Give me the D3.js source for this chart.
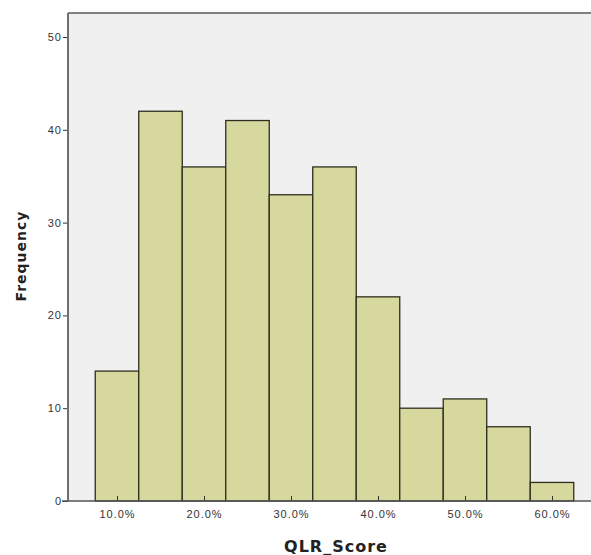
<!DOCTYPE html>
<html>
<head>
<meta charset="utf-8">
<script src="https://cdn.jsdelivr.net/npm/d3@7"></script>
<style>
  body { margin: 0; background: #fff; }
  svg { display: block; font-family: "DejaVu Sans", Arial, sans-serif; }
</style>
</head>
<body>
<script>
  // bin centres (fraction) and counts
  const binCenters = [0.10, 0.15, 0.20, 0.25, 0.30, 0.35, 0.40, 0.45, 0.50, 0.55, 0.60];
  const counts = [14, 42, 36, 41, 33, 36, 22, 10, 11, 8, 2];
  const binWidth = 0.05;
  const xTicks = [0.1, 0.2, 0.3, 0.4, 0.5, 0.6];
  const yTicks = [0, 10, 20, 30, 40, 50];

  const width = 591, height = 555;
  const plot = { left: 68, top: 13, right: 591, bottom: 501 };

  const svg = d3.select("body").append("svg")
    .attr("width", width)
    .attr("height", height);

  const x = d3.scaleLinear()
    .domain([0.1, 0.6])
    .range([117, 552]);

  const y = d3.scaleLinear()
    .domain([0, 50])
    .range([plot.bottom, 37]);

  // plot background
  svg.append("rect")
    .attr("x", plot.left)
    .attr("y", plot.top)
    .attr("width", plot.right - plot.left)
    .attr("height", plot.bottom - plot.top)
    .attr("fill", "#f0f0f0");

  svg.append("g")
    .selectAll("rect")
    .data(binCenters)
    .join("rect")
    .attr("x", d => x(d - binWidth / 2))
    .attr("width", d => x(d + binWidth / 2) - x(d - binWidth / 2))
    .attr("y", (d, i) => y(counts[i]))
    .attr("height", (d, i) => y(0) - y(counts[i]))
    .attr("fill", "#d6d89d")
    .attr("stroke", "#2e2e1e")
    .attr("stroke-width", 1.3);

  // frame: top and left
  svg.append("line")
    .attr("x1", plot.left).attr("x2", plot.right)
    .attr("y1", plot.top).attr("y2", plot.top)
    .attr("stroke", "#808080").attr("stroke-width", 2);

  const yAxis = svg.append("g")
    .attr("transform", `translate(${plot.left},0)`)
    .call(d3.axisLeft(y).tickValues(yTicks).tickSize(5).tickPadding(1).tickFormat(d3.format("d")));
  yAxis.select(".domain").remove();
  yAxis.selectAll(".tick line").attr("stroke", "#333");
  yAxis.selectAll("text")
    .style("font-size", "11px")
    .style("letter-spacing", "1px")
    .attr("fill", "#333");
  svg.append("line")
    .attr("x1", plot.left).attr("x2", plot.left)
    .attr("y1", plot.top).attr("y2", plot.bottom)
    .attr("stroke", "#707070").attr("stroke-width", 2);

  const xAxis = svg.append("g")
    .attr("transform", `translate(0,${plot.bottom})`)
    .call(d3.axisBottom(x).tickValues(xTicks).tickSize(-5).tickPadding(9).tickFormat(d3.format(".1%")));
  xAxis.select(".domain").remove();
  xAxis.selectAll(".tick line").attr("stroke", "#333");
  xAxis.selectAll("text")
    .style("font-size", "11px")
    .style("letter-spacing", "1px")
    .attr("fill", "#333");
  svg.append("line")
    .attr("x1", plot.left - 6).attr("x2", plot.right)
    .attr("y1", plot.bottom).attr("y2", plot.bottom)
    .attr("stroke", "#555").attr("stroke-width", 1.5);

  svg.append("text")
    .attr("x", 336)
    .attr("y", 552)
    .attr("text-anchor", "middle")
    .style("font-size", "16px")
    .style("font-weight", "bold")
    .style("letter-spacing", "1px")
    .attr("fill", "#222")
    .text("QLR_Score");

  svg.append("text")
    .attr("transform", "translate(26,256) rotate(-90)")
    .attr("text-anchor", "middle")
    .style("font-size", "14px")
    .style("font-weight", "bold")
    .style("letter-spacing", "1px")
    .attr("fill", "#222")
    .text("Frequency");
</script>
</body>
</html>
